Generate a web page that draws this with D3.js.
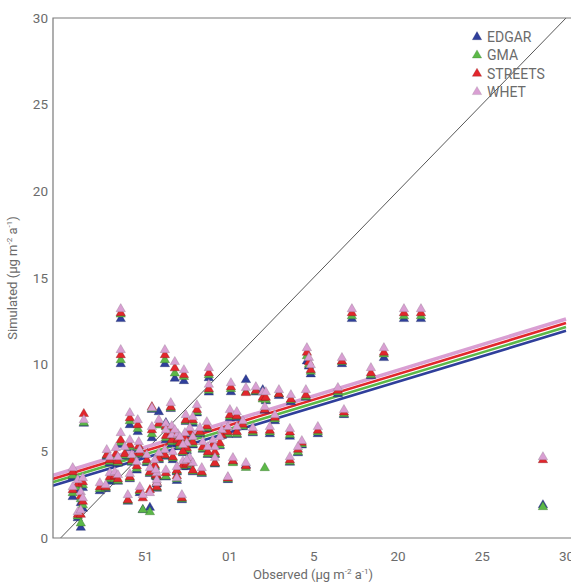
<!DOCTYPE html>
<html>
<head>
<meta charset="utf-8">
<script src="https://cdn.jsdelivr.net/npm/d3@7"></script>
<style>
  body { margin: 0; background: #fff; }
  text { font-family: Roboto, "Noto Sans", sans-serif; }
</style>
</head>
<body>
<div id="chart"></div>
<script>
// observed deposition at each site, and what each inventory simulates there
const observed = [3.57, 3.57, 6.19, 6.78, 7.32, 8.8, 8.8, 10.11, 14.62, 14.74, 14.85, 16.7, 17.29, 19.19, 20.38, 21.39, 18.42, 16.46, 16.82, 28.63,
  15.27, 14.32, 14.09, 13.61, 13.61, 12.42, 12.12, 12.72, 11.41, 10.82, 11.0, 11.59, 12.0, 12.18, 12.96, 13.67, 14.56, 11.0, 10.23, 5.42,
  5.83, 6.54, 8.09, 7.43, 7.85, 6.25, 10.05, 10.46, 8.68, 7.67, 8.27, 9.57, 9.93, 10.46, 6.6, 6.96, 7.38, 7.85, 8.44, 9.45,
  9.16, 8.74, 6.19, 6.66, 7.26, 7.67, 8.38, 9.16, 9.93, 6.25, 5.71, 6.9, 5.71, 7.2, 5.3, 4.88, 1.38, 4.11, 4.58, 5.42,
  3.57, 4.11, 4.64, 2.74, 3.28, 3.81, 2.92, 3.4, 4.23, 4.7, 5.12, 5.59, 4.52, 5.3, 5.65, 0.72, 1.02, 1.32, 0.72, 1.2,
  1.32, 2.33, 2.68, 2.92, 3.22, 3.4, 4.11, 3.99, 4.7, 1.02, 1.2, 6.25, 6.6, 6.78, 7.08, 7.49, 9.04, 7.26, 5.83, 7.85,
  7.49, 6.9, 5.71];

const edgar = [12.64, 10.04, 10.04, 9.2, 9.06, 9.23, 8.4, 8.42, 10.2, 9.9, 9.45, 10.04, 12.64, 10.39, 12.64, 12.64, 9.35, 8.3, 7.1, 1.9,
  6.0, 5.35, 4.9, 5.85, 4.35, 6.0, 7.35, 6.75, 6.05, 6.4, 9.12, 8.4, 8.54, 7.9, 8.2, 7.85, 8.1, 4.2, 4.4, 7.4,
  7.27, 7.45, 7.2, 6.7, 6.6, 6.64, 6.92, 6.92, 6.3, 6.0, 6.0, 5.9, 5.95, 5.95, 5.4, 5.5, 5.6, 5.35, 5.1, 5.3,
  4.8, 4.8, 4.7, 4.5, 4.1, 4.3, 3.7, 4.25, 3.35, 3.5, 3.5, 3.3, 2.85, 2.19, 1.75, 1.62, 6.6, 6.52, 6.12, 5.77,
  5.37, 5.2, 5.1, 4.7, 4.7, 4.7, 4.3, 4.3, 4.35, 4.8, 4.33, 4.1, 3.9, 3.7, 3.55, 3.52, 2.77, 2.89, 2.37, 2.02,
  1.7, 2.71, 2.83, 3.25, 3.3, 3.25, 3.4, 2.1, 2.6, 1.15, 0.6, 5.65, 5.9, 5.8, 5.25, 5.0, 5.3, 4.9, 4.5, 3.8,
  4.1, 3.8, 3.1];

const gma = [12.9, 10.27, 10.27, 9.5, 9.3, 9.4, 8.5, 8.6, 10.5, 10.0, 9.6, 10.15, 12.8, 10.6, 12.8, 12.8, 9.4, 8.4, 7.15, 1.79,
  6.1, 5.4, 4.96, 5.95, 4.4, 6.1, 4.04, 6.85, 6.1, 6.45, 8.42, 8.45, 8.0, 7.96, 8.3, 7.95, 8.15, 4.05, 4.33, 7.45,
  6.5, 7.5, 7.27, 6.75, 6.7, 6.4, 7.0, 7.0, 6.35, 6.05, 6.05, 5.95, 6.0, 6.0, 5.54, 5.6, 5.7, 5.42, 5.14, 5.35,
  4.85, 4.85, 4.75, 4.6, 4.15, 4.33, 3.75, 4.3, 3.4, 3.55, 3.55, 3.4, 2.9, 2.25, 1.5, 1.62, 6.65, 6.75, 6.3, 6.0,
  5.5, 5.25, 5.2, 4.75, 4.75, 4.75, 4.4, 4.35, 4.4, 4.85, 4.4, 4.15, 4.0, 3.75, 3.6, 3.6, 2.94, 3.06, 2.6, 2.25,
  1.9, 2.83, 2.89, 3.4, 3.4, 3.3, 3.45, 2.15, 2.7, 1.25, 0.85, 5.77, 6.0, 5.85, 5.3, 5.1, 5.35, 4.95, 4.55, 3.85,
  4.2, 3.85, 3.15];

const streets = [12.98, 10.56, 10.56, 9.8, 9.41, 9.52, 8.6, 8.71, 10.7, 10.15, 9.7, 10.2, 12.98, 10.7, 12.98, 12.98, 9.52, 8.5, 7.25, 4.5,
  6.2, 5.5, 5.1, 6.1, 4.5, 6.2, 7.39, 6.95, 6.2, 6.55, 8.37, 8.5, 8.1, 8.1, 8.3, 8.0, 8.25, 4.15, 4.44, 7.56,
  6.6, 7.56, 7.4, 6.81, 6.81, 6.46, 7.1, 7.04, 6.46, 6.12, 6.12, 5.94, 6.12, 6.12, 5.65, 5.7, 5.77, 5.54, 5.25, 5.48,
  4.96, 4.96, 4.79, 4.67, 4.21, 4.39, 3.81, 4.33, 3.45, 3.75, 3.6, 3.58, 2.94, 2.31, 2.77, 2.3, 7.16, 6.92, 6.52, 6.23,
  5.65, 5.37, 5.31, 4.79, 4.85, 4.85, 4.5, 4.44, 4.5, 4.9, 4.5, 4.21, 4.15, 3.81, 3.64, 3.81, 3.12, 3.23, 2.77, 2.42,
  2.1, 2.94, 2.94, 3.52, 3.58, 3.4, 3.52, 2.19, 2.77, 1.35, 1.35, 5.9, 6.1, 5.94, 5.48, 5.2, 5.4, 5.0, 4.6, 3.9,
  4.3, 3.9, 3.2];

const whet = [13.21, 10.85, 10.85, 10.16, 9.69, 9.81, 8.85, 8.94, 10.96, 10.4, 9.98, 10.39, 13.21, 10.96, 13.21, 13.21, 9.81, 8.66, 7.39, 4.67,
  6.41, 5.6, 5.25, 6.3, 4.67, 6.41, 7.56, 7.1, 6.35, 6.75, 8.66, 8.71, 8.42, 8.42, 8.54, 8.25, 8.54, 4.33, 4.62, 7.5,
  6.81, 7.79, 7.67, 7.1, 6.98, 6.6, 7.39, 7.27, 6.69, 6.35, 6.35, 6.23, 6.41, 6.41, 5.94, 6.0, 6.06, 5.83, 5.54, 5.83,
  5.25, 5.25, 5.08, 4.96, 4.44, 4.62, 4.04, 4.62, 3.52, 3.92, 3.75, 3.46, 3.17, 2.48, 2.6, 2.48, 6.81, 7.21, 6.81, 6.41,
  6.06, 5.65, 5.54, 5.08, 5.19, 5.25, 4.67, 4.67, 4.79, 5.08, 4.79, 4.5, 4.39, 4.04, 3.92, 4.04, 3.35, 3.46, 2.94, 2.65,
  2.3, 3.17, 3.06, 3.75, 3.81, 3.64, 3.7, 2.48, 2.94, 1.5, 1.6, 6.23, 6.46, 6.23, 5.83, 5.48, 5.65, 5.37, 4.9, 4.33,
  4.5, 4.1, 3.35];

// fitted lines at observed = 0 and observed = 30
const fitAt0 = [3.15, 3.35, 3.55, 3.75];
const fitAt30 = [11.95, 12.17, 12.4, 12.63];

const seriesNames = ["EDGAR", "GMA", "STREETS", "WHET"];
const seriesColors = ["#2f3f9b", "#5cb848", "#e2262c", "#d99fd3"];
const seriesStrokes = ["#1c2560", "#2f6a27", "#7a1418", "#8f7a8c"];

const xTicks = [5, 10, 15, 20, 25, 30];
const xTickLabels = ["51", "01", "5", "20", "25", "30"];
const yTicks = [0, 5, 10, 15, 20, 25, 30];

const width = 571, height = 585;
const margin = {top: 18, right: -2.6, bottom: 47, left: 53};

const svg = d3.select("#chart").append("svg")
    .attr("width", width)
    .attr("height", height);

const x = d3.scaleLinear()
    .domain([-0.45, 30.45])
    .range([margin.left, width - margin.right]);

const y = d3.scaleLinear()
    .domain([0, 30])
    .range([height - margin.bottom, margin.top]);

svg.append("clipPath").attr("id", "plot")
  .append("rect")
    .attr("x", margin.left)
    .attr("y", margin.top)
    .attr("width", width - margin.right - margin.left)
    .attr("height", y(0) - margin.top);

const plot = svg.append("g").attr("clip-path", "url(#plot)");

// 1:1 line
plot.append("line")
    .attr("x1", x(0)).attr("y1", y(0))
    .attr("x2", x(30)).attr("y2", y(30))
    .attr("stroke", "#444")
    .attr("stroke-width", 0.9);

// fitted lines
const fitLine = d3.line().x(d => x(d[0])).y(d => y(d[1]));
const lineOrder = [3, 2, 1, 0];
lineOrder.forEach(i => {
    plot.append("path")
        .attr("d", fitLine([[-0.5, fitAt0[i] - 0.5 * (fitAt30[i] - fitAt0[i]) / 30], [30, fitAt30[i]]]))
        .attr("stroke", seriesColors[i])
        .attr("stroke-width", i == 3 ? 3.6 : 2.6)
        .attr("fill", "none");
});

// site markers, one triangle per inventory
const tri = d3.symbol(d3.symbolTriangle).size(38);
const series = [edgar, gma, streets, whet];

series.forEach((vals, i) => {
    plot.append("g")
      .selectAll("path")
      .data(vals)
      .enter()
      .append("path")
        .attr("d", tri)
        .attr("transform", (d, j) => `translate(${x(observed[j])},${y(d)})`)
        .attr("fill", seriesColors[i])
        .attr("stroke", seriesStrokes[i])
        .attr("stroke-opacity", 0.6)
        .attr("stroke-width", 0.6);
});

// frame
svg.append("path")
    .attr("d", `M${width + 5},${margin.top}H${margin.left}V${y(0)}H${width + 5}`)
    .attr("fill", "none")
    .attr("stroke", "#7a7a7a")
    .attr("stroke-width", 1.2);

// axes
const xAxis = svg.append("g")
    .attr("transform", `translate(0,${y(0)})`)
    .call(d3.axisBottom(x).tickValues(xTicks).tickSize(0).tickPadding(13)
        .tickFormat((d, i) => xTickLabels[i]));

const yAxis = svg.append("g")
    .attr("transform", `translate(${margin.left},0)`)
    .call(d3.axisLeft(y).tickValues(yTicks).tickSize(0).tickPadding(5));

[xAxis, yAxis].forEach(a => {
    a.select(".domain").remove();
    a.selectAll("text")
        .attr("fill", "#6b6b6b")
        .attr("font-size", "13.5px")
        .attr("font-family", "Roboto, sans-serif");
});

// axis titles
const title = (g, main) => {
    g.attr("fill", "#6b6b6b")
        .attr("font-size", "13px")
        .attr("text-anchor", "middle");
    g.append("tspan").text(main + " (µg m");
    g.append("tspan").attr("font-size", "8px").attr("dy", -5).text("-2");
    g.append("tspan").attr("dy", 5).text(" a");
    g.append("tspan").attr("font-size", "8px").attr("dy", -5).text("-1");
    g.append("tspan").attr("dy", 5).text(")");
};

svg.append("text")
    .attr("x", 313)
    .attr("y", 579)
    .call(title, "Observed");

svg.append("text")
    .attr("transform", "translate(17,278) rotate(-90)")
    .call(title, "Simulated");

// legend
const legend = svg.append("g").attr("transform", "translate(477,37)");
seriesNames.forEach((name, i) => {
    const row = legend.append("g").attr("transform", `translate(0,${i * 18.3})`);
    row.append("path")
        .attr("d", tri)
        .attr("fill", seriesColors[i])
        .attr("stroke", seriesStrokes[i])
        .attr("stroke-opacity", 0.5)
        .attr("stroke-width", 0.5);
    row.append("text")
        .attr("x", 10)
        .attr("y", 5)
        .attr("fill", "#6b6b6b")
        .attr("font-size", "14px")
        .text(name);
});
</script>
</body>
</html>
